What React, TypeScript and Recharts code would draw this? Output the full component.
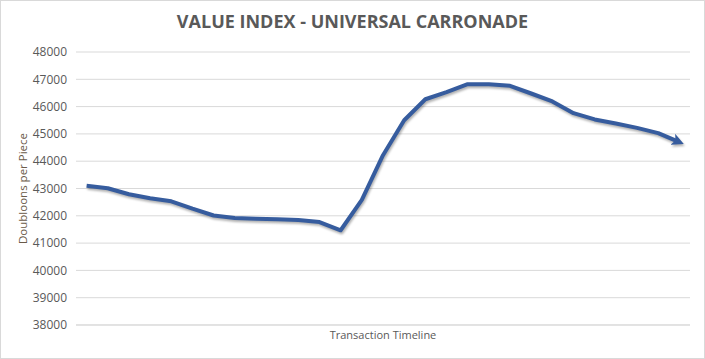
import {
  CartesianGrid,
  Line,
  LineChart,
  XAxis,
  YAxis,
} from "recharts";

const periods = [
  "1", "2", "3", "4", "5", "6", "7", "8", "9", "10",
  "11", "12", "13", "14", "15", "16", "17", "18", "19", "20",
  "21", "22", "23", "24", "25", "26", "27", "28", "29",
];

const doubloons = [
  43100, 43010, 42790, 42640, 42530, 42260, 42010, 41920, 41890, 41870,
  41850, 41770, 41470, 42580, 44220, 45500, 46270, 46530, 46820, 46820,
  46760, 46480, 46190, 45760, 45530, 45380, 45220, 45030, 44700,
];

const yTicks = [
  38000, 39000, 40000, 41000, 42000, 43000, 44000, 45000, 46000, 47000, 48000,
];

const data = periods.map((p, i) => ({ period: p, value: doubloons[i] }));

const font = "'Open Sans', 'Liberation Sans', sans-serif";

const App = () => {
  return (
    <div
      style={{
        position: "absolute",
        left: 0,
        top: 0,
        width: 705,
        height: 359,
        background: "#fff",
        fontFamily: font,
      }}
    >
      <style>{`.recharts-line-curve { filter: drop-shadow(1px 2px 1.2px rgba(0,0,0,0.3)); }`}</style>
      <div
        style={{
          position: "absolute",
          top: 9,
          left: 0,
          width: 705,
          textAlign: "center",
          fontSize: 18,
          fontWeight: 700,
          color: "#595959",
        }}
      >
        VALUE INDEX - UNIVERSAL CARRONADE
      </div>
      <LineChart
        width={705}
        height={359}
        data={data}
        margin={{ top: 52, right: 15, bottom: 0, left: 0 }}
      >
        <defs>
          <marker
            id="arrowHead"
            viewBox="0 0 10 10"
            refX="6"
            refY="5"
            markerWidth="3"
            markerHeight="3"
            orient="auto"
          >
            <path d="M0,0 L10,5 L0,10 L2.5,5 z" fill="#365c9e" />
          </marker>
        </defs>
        <CartesianGrid vertical={false} stroke="#d9d9d9" />
        <XAxis
          dataKey="period"
          tick={false}
          tickLine={false}
          axisLine={{ stroke: "#d9d9d9" }}
          height={34}
          padding={{ left: 10.6, right: 10.6 }}
          label={{
            value: "Transaction Timeline",
            position: "insideBottom",
            offset: 20,
            style: { fill: "#595959", fontSize: 11, fontFamily: font },
          }}
        />
        <YAxis
          domain={[38000, 48000]}
          ticks={yTicks}
          width={76}
          axisLine={false}
          tickLine={false}
          tickSize={0}
          tickMargin={9}
          tick={{ fill: "#595959", fontSize: 12, fontFamily: font }}
          label={{
            value: "Doubloons per Piece",
            angle: -90,
            position: "insideLeft",
            offset: 23,
            style: {
              textAnchor: "middle",
              fill: "#6a5a48",
              fontSize: 11.5,
              fontFamily: font,
            },
          }}
        />
        <Line
          type="linear"
          dataKey="value"
          stroke="#365c9e"
          strokeWidth={4}
          strokeLinejoin="round"
          dot={false}
          activeDot={false}
          markerEnd="url(#arrowHead)"
          isAnimationActive={false}
        />
      </LineChart>
      <div
        style={{
          position: "absolute",
          left: 0,
          top: 0,
          width: 705,
          height: 359,
          boxSizing: "border-box",
          border: "1px solid #d9d9d9",
          pointerEvents: "none",
        }}
      />
    </div>
  );
};

export default App;
